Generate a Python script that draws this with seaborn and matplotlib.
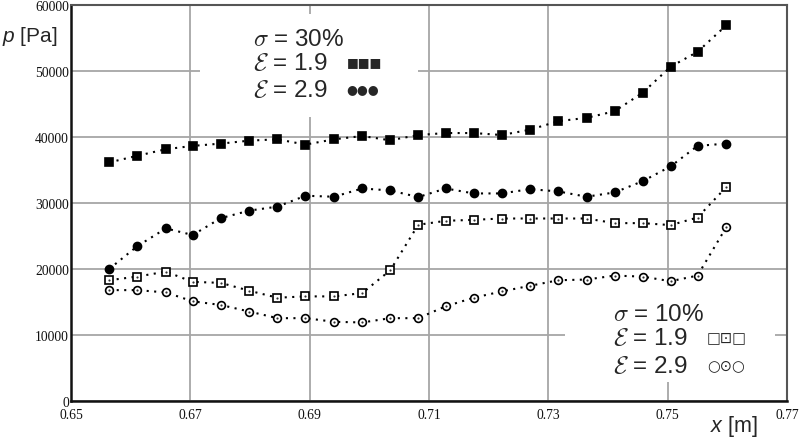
import matplotlib
matplotlib.use("Agg")
import matplotlib.pyplot as plt
from matplotlib.patches import Rectangle
import seaborn as sns
import pandas as pd

# ---- data ----
x_m = [0.6564, 0.6611, 0.6659, 0.6704, 0.6751, 0.6799, 0.6846, 0.6893, 0.6941, 0.6988,
       0.7035, 0.7082, 0.7128, 0.7175, 0.7222, 0.7269, 0.7317, 0.7364, 0.7411, 0.7458,
       0.7505, 0.7550, 0.7598]
p_s30_e19 = [36150, 37150, 38150, 38650, 39000, 39450, 39650, 38850, 39650, 40150, 39500,
             40300, 40600, 40600, 40300, 41100, 42400, 42900, 43900, 46700, 50650, 52900, 56900]
p_s30_e29 = [20000, 23450, 26150, 25150, 27700, 28850, 29450, 31100, 30950, 32200, 31900,
             30900, 32200, 31450, 31450, 32100, 31750, 30950, 31600, 33300, 35550, 38650, 39000]
p_s10_e19 = [18300, 18850, 19600, 18050, 17900, 16700, 15650, 15850, 15850, 16350, 19800,
             26700, 27300, 27450, 27650, 27650, 27650, 27650, 26950, 26950, 26650, 27800, 32400]
p_s10_e29 = [16800, 16800, 16450, 15100, 14550, 13550, 12550, 12550, 12000, 11900, 12550,
             12550, 14350, 15650, 16600, 17450, 18300, 18400, 19000, 18850, 18150, 19000, 26300]
x_ticks = [0.65, 0.67, 0.69, 0.71, 0.73, 0.75, 0.77]
x_tick_labels = ["0.65", "0.67", "0.69", "0.71", "0.73", "0.75", "0.77"]
y_ticks = [0, 10000, 20000, 30000, 40000, 50000, 60000]
y_tick_labels = ["0", "10000", "20000", "30000", "40000", "50000", "60000"]

sns.set_style("white")
plt.rcParams["font.family"] = ["Liberation Sans", "DejaVu Sans"]
plt.rcParams["mathtext.fontset"] = "custom"
plt.rcParams["mathtext.rm"] = "Liberation Sans"
plt.rcParams["mathtext.it"] = "Liberation Sans:italic"

fig = plt.figure(figsize=(8.0, 4.39), dpi=100)
ax = fig.add_axes([71 / 800, 37 / 439, 716 / 800, 396 / 439])
ax.set_axisbelow(True)

dots = (0, (1, 2.6))
series = [
    (p_s30_e19, "s", "black", 5.6),
    (p_s30_e29, "o", "black", 5.8),
    (p_s10_e19, "s", "white", 5.6),
    (p_s10_e29, "o", "white", 5.6),
]
for vals, mk, face, ms in series:
    df = pd.DataFrame({"x": x_m, "p": vals})
    sns.lineplot(data=df, x="x", y="p", ax=ax, color="black", linestyle=dots,
                 linewidth=1.5, marker=mk, markersize=ms, markerfacecolor=face,
                 markeredgecolor="black", markeredgewidth=1.2, zorder=3)
    if face == "white":
        sns.scatterplot(data=df, x="x", y="p", ax=ax, color="#333333", s=2.5,
                        linewidth=0, marker="o", zorder=4)

ax.set_xlim(0.65, 0.77)
ax.set_ylim(0, 60000)
ax.set_xticks(x_ticks)
ax.set_xticklabels(x_tick_labels)
ax.set_yticks(y_ticks)
ax.set_yticklabels(y_tick_labels)
ax.set_xlabel("")
ax.set_ylabel("")
for lab in ax.get_xticklabels() + ax.get_yticklabels():
    lab.set_fontfamily("Liberation Serif")
    lab.set_fontsize(9.8)
    lab.set_color("#111111")
ax.tick_params(axis="both", length=0)
ax.tick_params(axis="y", pad=1.5)
ax.tick_params(axis="x", pad=5)

ax.grid(True, color="#a6a6a6", linewidth=1.3)
ax.spines["left"].set_linewidth(1.8)
ax.spines["bottom"].set_linewidth(1.8)
ax.spines["left"].set_color("#111111")
ax.spines["bottom"].set_color("#111111")
ax.spines["top"].set_linewidth(1.5)
ax.spines["right"].set_linewidth(1.5)
ax.spines["top"].set_color("#555555")
ax.spines["right"].set_color("#555555")

# white boxes behind the two legends (they mask the grid)
ax.add_patch(Rectangle((0.1802, 0.717), 0.3044, 0.260, transform=ax.transAxes,
                       facecolor="white", edgecolor="none", zorder=1))
ax.add_patch(Rectangle((0.690, 0.048), 0.293, 0.242, transform=ax.transAxes,
                       facecolor="white", edgecolor="none", zorder=1))

fs = 17.5
# top-left legend
ax.text(0.254, 0.914, r"$\sigma$ = 30%", transform=ax.transAxes, fontsize=fs,
        va="center", ha="left", math_fontfamily="cm", zorder=5)
ax.text(0.254, 0.853, r"$\mathcal{E}$ = 1.9", transform=ax.transAxes, fontsize=fs,
        va="center", ha="left", math_fontfamily="cm", zorder=5)
ax.text(0.254, 0.786, r"$\mathcal{E}$ = 2.9", transform=ax.transAxes, fontsize=fs,
        va="center", ha="left", math_fontfamily="cm", zorder=5)
ax.text(0.385, 0.856, "■■■", transform=ax.transAxes, fontsize=9,
        va="center", ha="left", family="DejaVu Sans", zorder=5)
ax.text(0.385, 0.788, "●●●", transform=ax.transAxes, fontsize=9,
        va="center", ha="left", family="DejaVu Sans", zorder=5)

# bottom-right legend
ax.text(0.757, 0.220, r"$\sigma$ = 10%", transform=ax.transAxes, fontsize=fs,
        va="center", ha="left", math_fontfamily="cm", zorder=5)
ax.text(0.757, 0.159, r"$\mathcal{E}$ = 1.9", transform=ax.transAxes, fontsize=fs,
        va="center", ha="left", math_fontfamily="cm", zorder=5)
ax.text(0.757, 0.088, r"$\mathcal{E}$ = 2.9", transform=ax.transAxes, fontsize=fs,
        va="center", ha="left", math_fontfamily="cm", zorder=5)
ax.text(0.888, 0.162, "□⊡□", transform=ax.transAxes, fontsize=10.5,
        va="center", ha="left", family="DejaVu Sans", zorder=5)
ax.text(0.888, 0.091, "○⊙○", transform=ax.transAxes, fontsize=10.5,
        va="center", ha="left", family="DejaVu Sans", zorder=5)

# axis titles
fig.text(0.002, 1 - 37 / 439, r"$p$ [Pa]", fontsize=15, va="center", ha="left")
fig.text(710 / 800, 1 - 427 / 439, r"$x$ [m]", fontsize=15.5, va="center", ha="left")

fig.savefig("out.png", dpi=100)
